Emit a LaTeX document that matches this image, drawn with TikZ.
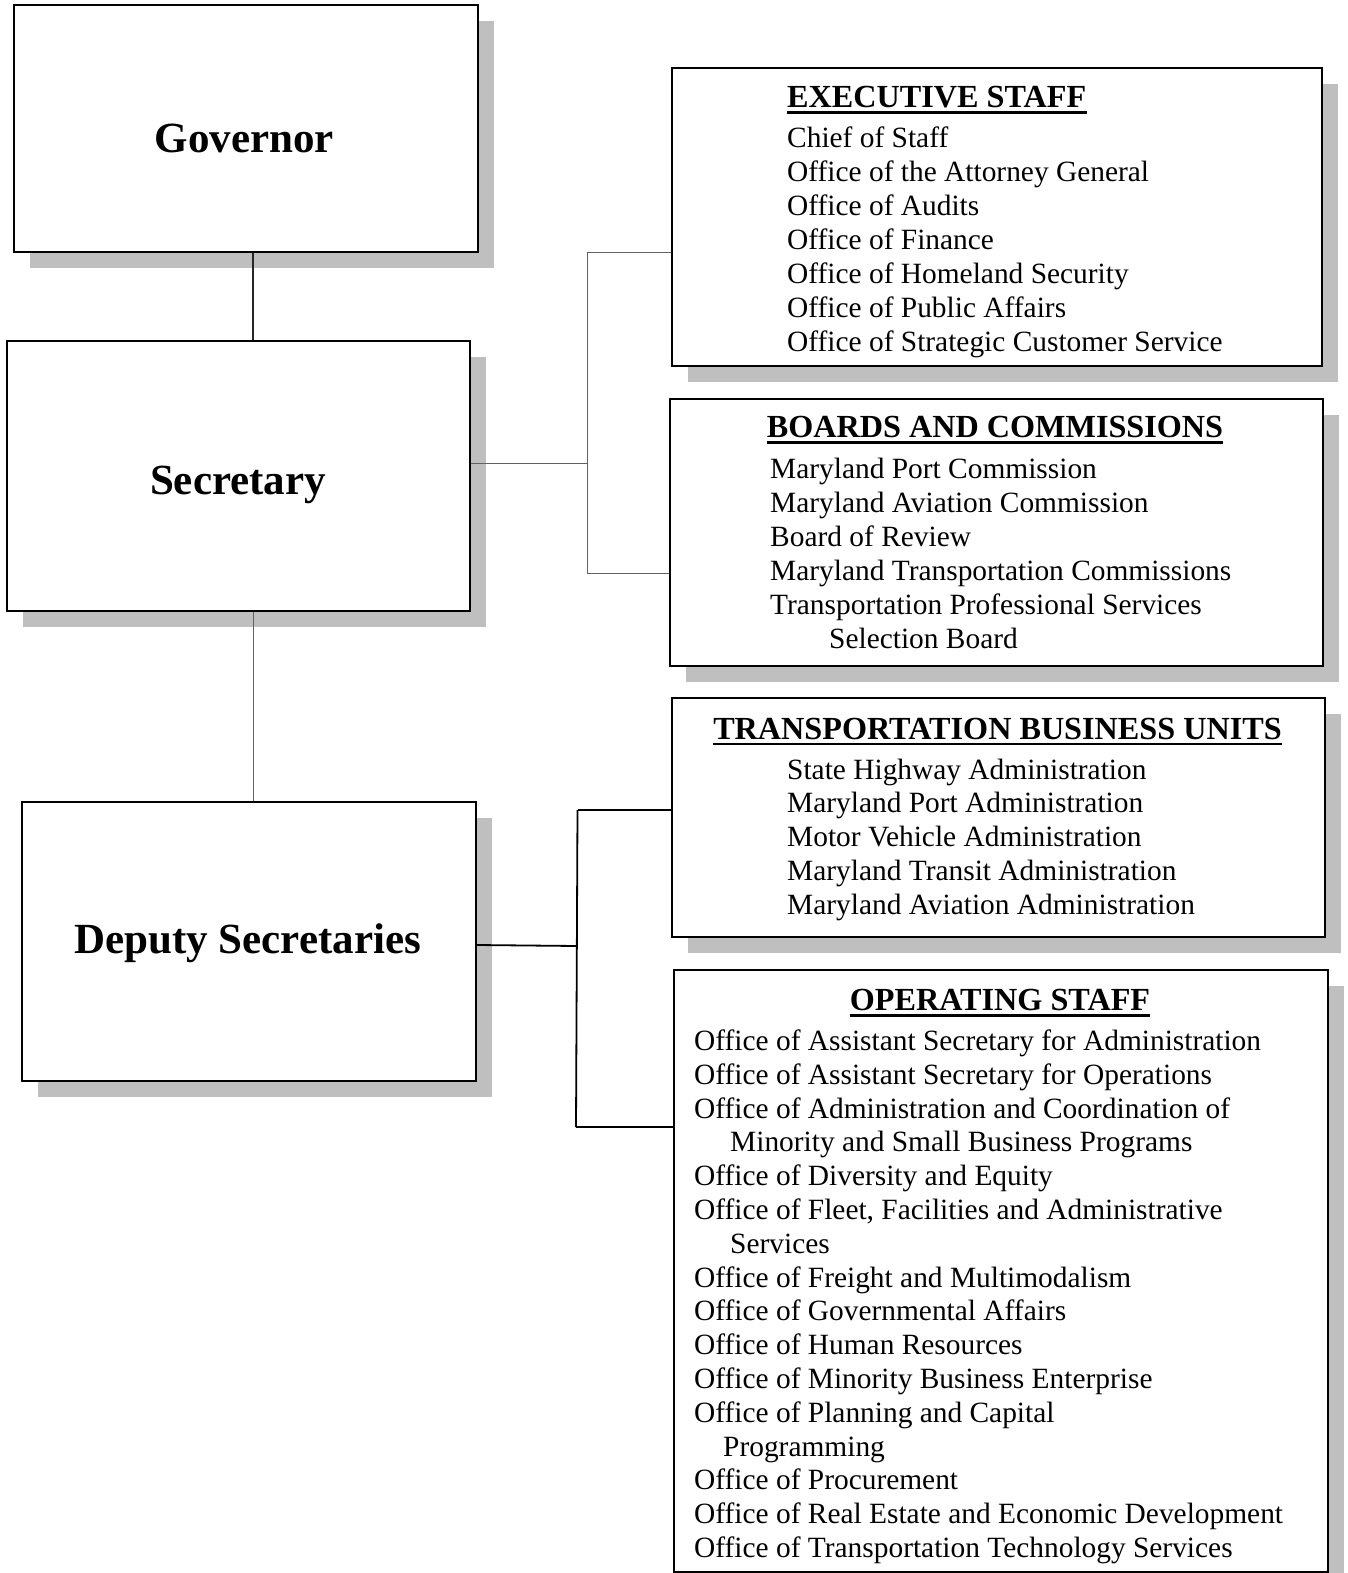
\documentclass[tikz,border=0pt]{standalone}
\usepackage{fontspec}
\setmainfont{Liberation Serif}
\usetikzlibrary{shadows}
\definecolor{shadowgray}{gray}{0.75}
\definecolor{linegray}{gray}{0.38}
\begin{document}
\begin{tikzpicture}[x=1pt,y=-1pt,
  box/.style={draw=black, line width=2pt, fill=white, inner sep=0pt, anchor=north west,
    drop shadow={shadow xshift=16pt, shadow yshift=-16pt, fill=shadowgray, opacity=1}},
  bigtext/.style={font=\fontsize{43}{50}\selectfont\bfseries, inner sep=0pt, anchor=base},
  headtext/.style={font=\fontsize{32.2}{38}\selectfont\bfseries, inner sep=0pt, anchor=base},
  item/.style={font=\fontsize{29.4}{34}\selectfont, inner sep=0pt, anchor=base west},
  uline/.style={line width=2.6pt},
  thinconn/.style={draw=linegray, line width=1pt},
  midconn/.style={draw=black!85, line width=1.4pt},
  thickconn/.style={draw=black, line width=1.8pt}]
\useasboundingbox (0,0) rectangle (1347,1573);

% main boxes
\node[box, minimum width=464pt, minimum height=247pt] (gov) at (13,4) {};
\node[box, minimum width=463pt, minimum height=270pt] (sec) at (6,340) {};
\node[box, minimum width=454pt, minimum height=279pt] (dep) at (21,801) {};

% list boxes
\node[box, minimum width=650pt, minimum height=298pt] (exec) at (671,67) {};
\node[box, minimum width=653pt, minimum height=267pt] (boards) at (669,398) {};
\node[box, minimum width=653pt, minimum height=239pt] (tbu) at (671,697) {};
\node[box, minimum width=654pt, minimum height=602pt] (ops) at (673,969) {};

% main labels
\node[bigtext] (govt) at (244.5,153) {Governor};
\node[bigtext] (sect) at (238,494) {Secretary};
\node[bigtext] (dept) at (247.5,953) {Deputy Secretaries};

% connectors on the left
\draw[midconn] ([xshift=240pt]gov.south west) -- ([xshift=247pt]sec.north west);
\draw[thinconn] ([xshift=247pt]sec.south west) -- ([xshift=232pt]dep.north west);

% secretary bus
\coordinate (s1) at (587,252);
\coordinate (s2) at (587,573);
\coordinate (sb) at (587,463);
\draw[thinconn] (s1) -- (s2);
\draw[thinconn] (sec.east |- sb) -- (sb);
\draw[thinconn] (s1) -- (s1 -| exec.west);
\draw[thinconn] (s2) -- (s2 -| boards.west);

% deputy bus
\coordinate (d1) at (577.5,810);
\coordinate (d2) at (576,1127);
\coordinate (db) at (577,946);
\draw[thickconn] (d1) -- (d2);
\draw[thickconn] (dep.east |- 0,945) -- (db);
\draw[thickconn] (d1) -- (d1 -| tbu.west);
\draw[thickconn] (d2) -- (d2 -| ops.west);

% EXECUTIVE STAFF
\node[headtext, anchor=base west] (exh) at (787,107.5) {EXECUTIVE STAFF};
\draw[uline] ([yshift=-5pt]exh.base west) -- ([yshift=-5pt]exh.base east);
\foreach \t [count=\i] in {Chief of Staff, Office of the Attorney General, Office of Audits,
  Office of Finance, Office of Homeland Security, Office of Public Affairs,
  Office of Strategic Customer Service}
  \node[item] (ex\i) at (787,{148+33.93*(\i-1)}) {\t};

% BOARDS AND COMMISSIONS
\node[headtext] (bch) at (995,437.5) {BOARDS AND COMMISSIONS};
\draw[uline] ([yshift=-5pt]bch.base west) -- ([yshift=-5pt]bch.base east);
\foreach \t [count=\i] in {Maryland Port Commission, Maryland Aviation Commission,
  Board of Review, Maryland Transportation Commissions,
  Transportation Professional Services, \hspace*{59pt}Selection Board}
  \node[item] (bc\i) at (770,{478+34.1*(\i-1)}) {\t};

% TRANSPORTATION BUSINESS UNITS
\node[headtext] (tbh) at (997.5,739) {TRANSPORTATION BUSINESS UNITS};
\draw[uline] ([yshift=-5pt]tbh.base west) -- ([yshift=-5pt]tbh.base east);
\foreach \t [count=\i] in {State Highway Administration, Maryland Port Administration,
  Motor Vehicle Administration, Maryland Transit Administration,
  Maryland Aviation Administration}
  \node[item] (tb\i) at (787,{779+33.85*(\i-1)}) {\t};

% OPERATING STAFF
\node[headtext] (osh) at (1000,1010.5) {OPERATING STAFF};
\draw[uline] ([yshift=-5pt]osh.base west) -- ([yshift=-5pt]osh.base east);
\foreach \t [count=\i] in {Office of Assistant Secretary for Administration,
  Office of Assistant Secretary for Operations,
  Office of Administration and Coordination of,
  \hspace*{36pt}Minority and Small Business Programs,
  Office of Diversity and Equity,
  {Office of Fleet, Facilities and Administrative},
  \hspace*{36pt}Services,
  Office of Freight and Multimodalism,
  Office of Governmental Affairs,
  Office of Human Resources,
  Office of Minority Business Enterprise,
  Office of Planning and Capital,
  \hspace*{29pt}Programming,
  Office of Procurement,
  Office of Real Estate and Economic Development,
  Office of Transportation Technology Services}
  \node[item] (os\i) at (694,{1050.5+33.8*(\i-1)}) {\t};
\end{tikzpicture}
\end{document}
